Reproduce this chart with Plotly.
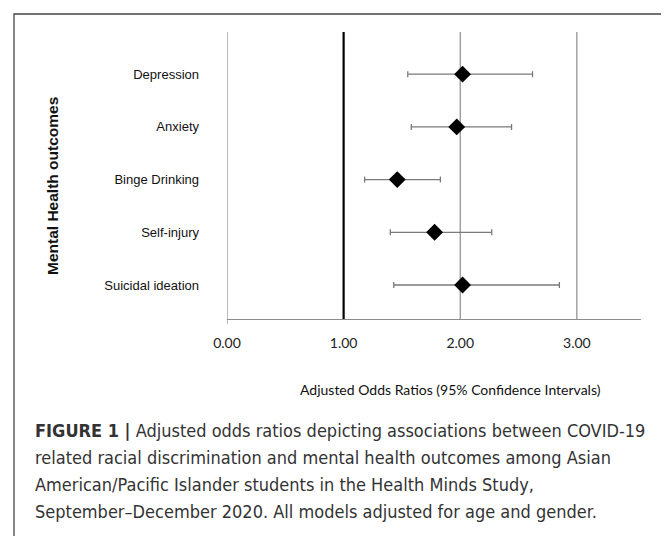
import plotly.graph_objects as go

outcomes = ["Depression", "Anxiety", "Binge Drinking", "Self-injury", "Suicidal ideation"]
odds_ratio = [2.02, 1.97, 1.46, 1.78, 2.02]
ci_low = [1.55, 1.58, 1.18, 1.40, 1.43]
ci_high = [2.62, 2.44, 1.83, 2.27, 2.85]
x_ticks = [0, 1, 2, 3]
x_tick_labels = ["0.00", "1.00", "2.00", "3.00"]
caption_lines = [
    "<b>FIGURE 1 |</b> Adjusted odds ratios depicting associations between COVID-19",
    "related racial discrimination and mental health outcomes among Asian",
    "American/Pacific Islander students in the Health Minds Study,",
    "September\u2013December 2020. All models adjusted for age and gender.",
]

OFF = 8  # page body margin
W, H = 661, 528
L, R, T, B = 227, 641, 32, 319  # page pixel coords of plot area

def px(x):
    return (x - L) / (R - L)

def py(y):
    return (B - y) / (B - T)

ypos = list(range(len(outcomes) - 1, -1, -1))

fig = go.Figure()
fig.add_trace(go.Scatter(
    x=odds_ratio, y=ypos, mode="markers",
    marker=dict(symbol="diamond", size=13, color="black"),
    error_x=dict(type="data", symmetric=False,
                 array=[h - o for h, o in zip(ci_high, odds_ratio)],
                 arrayminus=[o - l for o, l in zip(odds_ratio, ci_low)],
                 color="#7a7a7a", thickness=1.3, width=3),
    showlegend=False,
))

fig.update_layout(
    width=W, height=H,
    margin=dict(l=L - OFF, r=W - (R - OFF), t=T - OFF, b=H - (B - OFF)),
    paper_bgcolor="white", plot_bgcolor="white",
    xaxis=dict(range=[0, 3.55], tickvals=x_ticks, ticktext=x_tick_labels,
               showgrid=False, zeroline=False, showline=True, linecolor="#8c8c8c",
               linewidth=1, ticks="", ticklabelstandoff=11,
               tickfont=dict(family="Lato, Open Sans, sans-serif", size=14, color="#222")),
    yaxis=dict(range=[-0.645, 4.8], tickvals=ypos, ticktext=outcomes,
               showgrid=False, zeroline=False, showline=False, ticks="",
               ticklabelstandoff=27,
               tickfont=dict(family="Liberation Sans, Arial, sans-serif", size=13, color="#111")),
    shapes=[
        dict(type="line", xref="x", yref="paper", x0=2, x1=2, y0=0, y1=1,
             line=dict(color="#8c8c8c", width=1.2), layer="below"),
        dict(type="line", xref="x", yref="paper", x0=3, x1=3, y0=0, y1=1,
             line=dict(color="#8c8c8c", width=1.2), layer="below"),
        dict(type="line", xref="x", yref="paper", x0=1, x1=1, y0=0, y1=1,
             line=dict(color="black", width=2.2), layer="below"),
        dict(type="line", xref="x", yref="paper", x0=0, x1=0, y0=py(324), y1=1,
             line=dict(color="#8c8c8c", width=1.2), layer="below"),
        dict(type="rect", xref="paper", yref="paper",
             x0=px(14), x1=px(667), y0=py(14), y1=py(560),
             line=dict(color="#444", width=1.3), fillcolor="rgba(0,0,0,0)"),
    ],
)

annotations = [
    dict(text="<b>Mental Health outcomes</b>", x=px(52), y=py(186), textangle=-90,
         font=dict(family="Liberation Sans, Arial, sans-serif", size=15.5, color="#111")),
    dict(text="Adjusted Odds Ratios (95% Confidence Intervals)", x=px(450), y=py(389),
         font=dict(family="Lato, Open Sans, sans-serif", size=14, color="#111")),
]
for i, line in enumerate(caption_lines):
    annotations.append(dict(text=line, x=px(33), y=py(430 + 27 * i), xanchor="left",
                            font=dict(family="Liberation Sans Narrow, DejaVu Sans Condensed, sans-serif",
                                      size=18, color="#333")))
for a in annotations:
    a.setdefault("xanchor", "center")
    a.update(xref="paper", yref="paper", yanchor="middle", showarrow=False)
fig.update_layout(annotations=annotations)

fig.write_html("out.html")
